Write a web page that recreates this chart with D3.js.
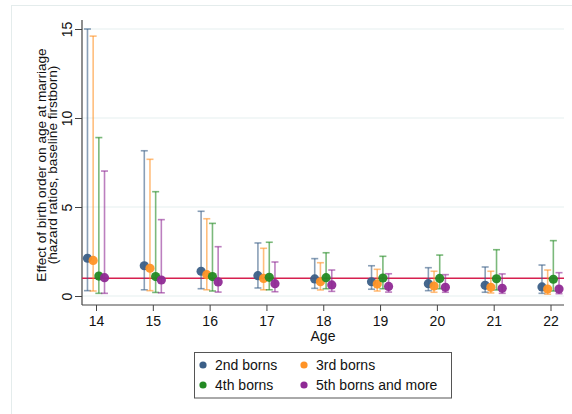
<!DOCTYPE html>
<html><head><meta charset="utf-8">
<script src="https://cdn.jsdelivr.net/npm/d3@7"></script>
<style>body{margin:0;background:#fff}svg{display:block}text{font-family:"Liberation Sans",Arial,sans-serif;fill:#111}</style>
</head><body>
<script>
const ages = [14,15,16,17,18,19,20,21,22];
const seriesNames = ["2nd borns","3rd borns","4th borns","5th borns and more"];
const seriesColors = ["#3b5f87","#ff9326","#238a23","#8f2a95"];
const yTicks = [0,5,10,15];
// point estimates
const est2 = [2.12,1.70,1.39,1.14,0.96,0.80,0.69,0.60,0.51];
const est3 = [2.00,1.56,1.20,0.99,0.80,0.67,0.56,0.49,0.39];
const est4 = [1.12,1.09,1.09,1.05,1.03,1.01,0.99,0.97,0.94];
const est5 = [1.03,0.90,0.79,0.69,0.62,0.54,0.49,0.43,0.39];
// lower CI
const lo2 = [0.30,0.35,0.41,0.45,0.43,0.38,0.30,0.21,0.15];
const lo3 = [0.28,0.30,0.35,0.35,0.34,0.28,0.21,0.17,0.10];
const lo4 = [0.15,0.20,0.28,0.35,0.41,0.41,0.41,0.34,0.28];
const lo5 = [0.15,0.18,0.22,0.24,0.26,0.22,0.21,0.15,0.13];
// upper CI
const hi2 = [15.0,8.16,4.76,2.98,2.10,1.70,1.59,1.63,1.74];
const hi3 = [14.6,7.68,4.34,2.68,1.87,1.50,1.39,1.39,1.46];
const hi4 = [8.90,5.86,4.08,3.02,2.43,2.23,2.30,2.60,3.11];
const hi5 = [7.02,4.29,2.77,1.91,1.46,1.25,1.20,1.24,1.31];
const refValue = 1;
const offsets = [-0.15,-0.05,0.05,0.15];

const W=572,H=414;
const svg=d3.select("body").append("svg").attr("width",W).attr("height",H);
// outer frame
svg.append("rect").attr("x",11.5).attr("y",5.5).attr("width",W+20).attr("height",H+20)
  .attr("fill","none").attr("stroke","#e4ecec").attr("stroke-width",1);

const x=d3.scaleLinear().domain([14,22]).range([96,550.5]);
const y=d3.scaleLinear().domain([0,15]).range([296,29]);

// gridlines
svg.append("g").selectAll("line").data(yTicks).join("line")
  .attr("x1",82).attr("x2",564).attr("y1",d=>y(d)).attr("y2",d=>y(d))
  .attr("stroke","#e6eff0").attr("stroke-width",1.2);

// y axis
const ya=svg.append("g").attr("transform","translate(82,0)")
  .call(d3.axisLeft(y).tickValues(yTicks).tickSize(7).tickPadding(4));
ya.select(".domain").attr("d","M0,20V305").attr("stroke","#444").attr("stroke-width",1.2);
ya.selectAll(".tick line").attr("stroke","#444");
ya.selectAll(".tick text").attr("font-size",14).attr("fill","#111")
  .attr("transform","rotate(-90)").attr("text-anchor","middle")
  .attr("x",0).attr("y",-10).attr("dy","0");
// x axis
const xa=svg.append("g").attr("transform","translate(0,305)")
  .call(d3.axisBottom(x).tickValues(ages).tickFormat(d3.format("d")).tickSize(6).tickPadding(5));
xa.select(".domain").attr("d","M82,0H564").attr("stroke","#444").attr("stroke-width",1.2);
xa.selectAll(".tick line").attr("stroke","#444");
xa.selectAll(".tick text").attr("font-size",14).attr("fill","#111");

// axis titles
svg.append("text").attr("x",323).attr("y",341).attr("text-anchor","middle").attr("font-size",14).text("Age");
const yt=svg.append("text").attr("transform","translate(0,165) rotate(-90)").attr("text-anchor","middle").attr("font-size",13.6);
yt.append("tspan").attr("x",0).attr("y",46).text("Effect of birth order on age at marriage");
yt.append("tspan").attr("x",0).attr("y",57).text("(hazard ratios, baseline firstborn)");

// reference line
svg.append("line").attr("x1",82).attr("x2",564).attr("y1",y(refValue)).attr("y2",y(refValue))
  .attr("stroke","#d6204f").attr("stroke-width",1.5);

const ests=[est2,est3,est4,est5], los=[lo2,lo3,lo4,lo5], his=[hi2,hi3,hi4,hi5];
const g=svg.append("g");
seriesNames.forEach((name,s)=>{
  const data=ages.map((a,i)=>({a,e:ests[s][i],lo:los[s][i],hi:his[s][i]}));
  const gs=g.append("g");
  const col=seriesColors[s];
  gs.selectAll("line.bar").data(data).join("line").attr("class","bar")
    .attr("x1",d=>x(d.a+offsets[s])).attr("x2",d=>x(d.a+offsets[s]))
    .attr("y1",d=>y(d.lo)).attr("y2",d=>y(d.hi))
    .attr("stroke",col).attr("stroke-opacity",0.6).attr("stroke-width",1.6);
  ["lo","hi"].forEach(k=>{
    gs.selectAll("line.cap"+k).data(data).join("line").attr("class","cap"+k)
      .attr("x1",d=>x(d.a+offsets[s])-3.5).attr("x2",d=>x(d.a+offsets[s])+3.5)
      .attr("y1",d=>y(d[k])).attr("y2",d=>y(d[k]))
      .attr("stroke",col).attr("stroke-opacity",0.6).attr("stroke-width",1.6);
  });
});
seriesNames.forEach((name,s)=>{
  const data=ages.map((a,i)=>({a,e:ests[s][i]}));
  g.append("g").selectAll("circle").data(data).join("circle")
    .attr("cx",d=>x(d.a+offsets[s])).attr("cy",d=>y(d.e)).attr("r",4.6)
    .attr("fill",seriesColors[s]).attr("fill-opacity",0.95);
});

// legend
const lg=svg.append("g");
lg.append("rect").attr("x",194.5).attr("y",352.5).attr("width",257).attr("height",45.5)
  .attr("fill","#fff").attr("stroke","#555").attr("stroke-width",1);
const lpos=[[203,365],[304,365],[203,385],[304,385]];
seriesNames.forEach((name,s)=>{
  lg.append("circle").attr("cx",lpos[s][0]).attr("cy",lpos[s][1]).attr("r",3.6).attr("fill",seriesColors[s]);
  lg.append("text").attr("x",lpos[s][0]+12).attr("y",lpos[s][1]+5).attr("font-size",14).text(name);
});
</script>
</body></html>
